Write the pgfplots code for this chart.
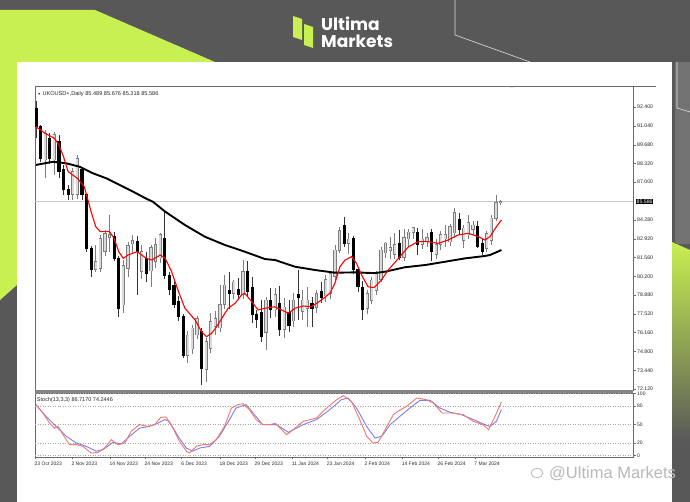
\documentclass[border=0pt]{standalone}
\usepackage{pgfplots}
\pgfplotsset{compat=1.18}
\usepackage{pgfplotstable}
\usepackage{fontspec}
\setmainfont{Liberation Sans}
\newfontfamily\logofont{Poppins}
\definecolor{bgray}{RGB}{88,88,88}
\definecolor{limeg}{RGB}{200,240,80}
\definecolor{bullfill}{RGB}{218,218,218}
\definecolor{bulledge}{RGB}{125,125,125}
\definecolor{stochred}{RGB}{240,120,110}
\definecolor{stochblue}{RGB}{125,125,235}
\definecolor{framec}{RGB}{105,105,105}
\definecolor{txt}{RGB}{40,40,40}

\pgfplotstableread{
i o h l c
0 92.3 92.8 90.2 91.0
1 91.0 91.1 88.46 88.7
2 88.6 90.75 87.3 90.5
3 90.15 90.5 88.3 88.7
4 88.6 90.6 87.5 90.4
5 89.9 90.4 87.3 87.75
6 87.9 88.2 86.1 86.45
7 86.45 86.8 85.7 86.1
8 86.1 88.0 85.7 87.75
9 86.1 88.95 85.8 88.7
10 87.9 88.1 85.7 86.1
11 86.1 86.2 82.0 82.25
12 82.25 82.4 80.2 80.7
13 80.7 82.5 80.55 81.3
14 80.8 83.2 80.5 82.95
15 82.0 83.55 81.7 83.3
16 83.0 84.6 82.0 83.2
17 83.1 83.4 81.3 81.5
18 81.5 81.7 77.3 77.9
19 78.15 81.4 77.6 81.0
20 80.8 82.7 80.2 82.45
21 82.55 83.2 81.9 82.8
22 82.7 83.1 78.9 82.0
23 80.55 82.5 80.0 82.0
24 81.5 82.0 79.8 80.4
25 80.6 82.45 79.45 82.3
26 81.3 82.95 80.8 82.5
27 81.55 83.3 81.2 83.2
28 82.95 84.85 80.0 80.3
29 80.3 80.5 78.9 79.25
30 79.6 79.9 77.95 78.15
31 78.4 78.8 77.0 77.3
32 77.3 77.5 74.35 74.55
33 74.55 76.3 74.0 76.0
34 75.0 76.7 74.6 76.5
35 76.0 77.4 75.7 77.2
36 76.25 76.5 72.4 73.6
37 73.5 75.8 72.6 75.5
38 75.05 77.6 74.7 76.95
39 76.6 77.7 76.0 77.2
40 76.5 79.6 76.2 78.2
41 78.2 80.3 77.9 79.6
42 79.2 80.55 77.9 79.0
43 79.0 79.95 78.6 79.8
44 79.3 80.1 78.5 78.9
45 78.9 81.4 78.6 80.55
46 80.55 81.3 78.7 79.1
47 79.45 80.2 76.85 77.45
48 77.45 77.8 76.5 77.1
49 77.6 78.5 75.5 75.9
50 76.2 78.75 74.9 78.5
51 78.5 79.4 77.2 77.8
52 77.8 79.4 77.3 78.9
53 78.3 79.5 75.9 76.4
54 76.4 78.65 75.8 78.0
55 77.6 78.5 76.2 76.7
56 77.0 79.0 76.6 78.5
57 78.95 80.65 77.1 78.7
58 77.7 79.2 77.1 78.5
59 77.9 79.45 76.6 78.5
60 78.3 78.7 76.6 77.9
61 78.0 79.2 77.6 79.0
62 79.1 79.8 78.3 78.7
63 78.8 80.3 78.4 80.0
64 79.0 80.5 78.6 80.4
65 80.2 82.5 79.9 82.1
66 82.1 83.8 81.9 83.5
67 83.9 84.5 82.3 82.6
68 82.6 83.3 81.8 82.9
69 82.95 83.1 80.4 80.7
70 80.7 80.9 79.1 79.45
71 79.45 79.9 77.1 77.8
72 77.9 79.2 77.5 79.0
73 78.5 80.2 78.2 79.95
74 79.2 80.6 78.9 80.4
75 80.0 82.35 79.8 82.1
76 81.9 82.7 81.5 82.6
77 82.1 83.05 81.5 82.3
78 81.8 83.3 81.5 82.5
79 82.6 83.55 81.4 81.6
80 81.6 83.65 81.3 83.0
81 82.9 83.65 82.4 83.4
82 83.4 83.8 82.9 83.75
83 83.4 83.7 81.75 82.5
84 82.5 83.6 82.2 82.9
85 82.7 83.3 82.3 83.0
86 83.4 83.6 81.3 82.0
87 81.8 82.9 81.5 82.5
88 82.5 83.45 82.1 83.2
89 82.9 83.9 82.3 83.2
90 82.7 84.0 82.4 83.8
91 83.35 85.1 83.0 84.8
92 84.3 84.8 83.2 83.55
93 82.8 83.9 82.25 83.7
94 83.2 84.65 82.9 84.1
95 83.6 84.2 83.2 83.9
96 83.8 84.2 82.25 82.35
97 82.6 82.9 81.75 82.0
98 82.2 83.5 82.0 83.3
99 82.8 84.6 82.5 84.4
100 84.4 86.07 84.2 85.5
101 85.489 85.676 85.318 85.586
}\candles

\pgfplotsset{
  candle/.style n args={2}{draw=none, mark=none, forget plot,
    error bars/.cd, y dir=both, y explicit, error mark=none,
    error bar style={draw=#1, line width=#2, solid}},
}

\begin{document}
\begin{tikzpicture}[x=1pt,y=1pt]
\useasboundingbox (0pt,0pt) rectangle (690pt,502pt);
% background
\fill[bgray] (0pt,0pt) rectangle (690pt,502pt);
\fill[limeg] (0pt,492pt) -- (95pt,492pt) -- (215pt,440pt) -- (17pt,440pt) -- (17pt,217pt) -- (0pt,202pt) -- cycle;
\shade[top color=limeg, bottom color=bgray] (672pt,260pt) -- (690pt,252pt) -- (690pt,60pt) -- (672pt,60pt) -- cycle;
\fill[black!55] (675pt,440pt) rectangle (690pt,258pt);
\draw[white!75!gray, line width=0.6pt] (455pt,502pt) -- (455pt,467pt) -- (530pt,440pt);
\draw[white!75!gray, line width=0.6pt] (677pt,440pt) -- (677pt,394pt) -- (690pt,390pt);
\fill[white] (17pt,0pt) rectangle (672pt,440pt);
% logo
\fill[limeg] (293pt,486pt) -- (302pt,483pt) -- (302pt,462pt) -- (293pt,465pt) -- cycle;
\fill[limeg] (304pt,478pt) -- (313pt,475pt) -- (313pt,454pt) -- (304pt,457pt) -- cycle;
\node[anchor=base west, inner sep=0pt, text depth=0pt, text=white, font=\logofont\bfseries\fontsize{17}{18}\selectfont] at (321pt,471pt) {Ultima};
\node[anchor=base west, inner sep=0pt, text depth=0pt, text height=11pt, text=white, font=\logofont\bfseries\fontsize{17}{18}\selectfont] at (321pt,454.5pt) {Markets};
% chart window top line
\draw[framec, line width=0.6pt] (35pt,416pt) -- (656pt,416pt);

% main price panel
\begin{axis}[
  at={(35pt,112pt)}, anchor=south west,
  width=598pt, height=304pt, scale only axis,
  xmin=-0.2, xmax=129.8, ymin=72.04, ymax=93.91,
  clip mode=individual,
  axis line style={draw=framec, line width=0.6pt},
  xtick=\empty,
  ytick={72.12,73.44,74.8,76.16,77.52,78.88,80.2,81.56,82.92,84.28,87.0,88.32,89.68,91.04,92.4},
  yticklabels={72.120,73.440,74.800,76.160,77.520,78.880,80.200,81.560,82.920,84.280,87.000,88.320,89.680,91.040,92.400},
  ytick pos=right, yticklabel pos=right,
  ytick align=outside, major tick length=2.5pt,
  tick style={draw=framec, line width=0.5pt},
  yticklabel style={font=\fontsize{5.2}{6}\selectfont, text=txt, inner sep=1.5pt},
]
\addplot[gray!45, line width=0.5pt] coordinates {(-0.2,85.586) (129.8,85.586)};
% wicks
\addplot[candle={bulledge}{0.6pt}]
  table[x=i, y expr={(\thisrow{h}+\thisrow{l})/2}, y error expr={(\thisrow{h}-\thisrow{l})/2},
        restrict expr to domain={\thisrow{c}-\thisrow{o}}{0:100}] {\candles};
\addplot[candle={black!80}{0.6pt}]
  table[x=i, y expr={(\thisrow{h}+\thisrow{l})/2}, y error expr={(\thisrow{h}-\thisrow{l})/2},
        restrict expr to domain={\thisrow{o}-\thisrow{c}}{0.000001:100}] {\candles};
% bull bodies
\addplot[candle={bulledge}{3.2pt}]
  table[x=i, y expr={(\thisrow{o}+\thisrow{c})/2}, y error expr={abs(\thisrow{c}-\thisrow{o})/2+0.03},
        restrict expr to domain={\thisrow{c}-\thisrow{o}}{0:100}] {\candles};
\addplot[candle={bullfill}{1.9pt}]
  table[x=i, y expr={(\thisrow{o}+\thisrow{c})/2}, y error expr={max(abs(\thisrow{c}-\thisrow{o})/2-0.02,0)},
        restrict expr to domain={\thisrow{c}-\thisrow{o}}{0:100}] {\candles};
% bear bodies
\addplot[candle={black}{3.2pt}]
  table[x=i, y expr={(\thisrow{o}+\thisrow{c})/2}, y error expr={abs(\thisrow{c}-\thisrow{o})/2+0.03},
        restrict expr to domain={\thisrow{o}-\thisrow{c}}{0.000001:100}] {\candles};
% moving averages
\addplot[black, line width=1.9pt] coordinates {
(0,88.23) (3.7,88.46) (6.6,88.35) (9.5,88.1) (12.4,87.63) (15.3,87.27) (18.2,86.79) (21.1,86.31) (24,85.8) (25.4,85.59) (28.1,84.87) (32.4,83.91) (36.7,83.07) (41.1,82.47) (45.4,81.99) (49.8,81.46) (52,81.39) (56.3,80.91) (60.7,80.67) (65,80.48) (69.3,80.5) (73.6,80.45) (75.9,80.55) (80.2,80.87) (84.6,81.03) (89,81.27) (93.3,81.51) (97.6,81.68) (98.7,81.75) (101.2,82.11)};
\addplot[red, line width=1.1pt] coordinates {
(0,90.98) (2,90.5) (4,90.15) (5,89.67) (6,88.82) (7,87.75) (9,87.27) (10.5,86.67) (11,86.07) (12,84.87) (13,83.79) (14,83.43) (16,83.43) (17,82.95) (18,81.99) (19,81.51) (20,81.75) (22,81.99) (24,81.51) (25.2,81.39) (27,81.75) (28.1,81.51) (29.5,80.55) (31,79.11) (32.4,77.92) (34.6,77.08) (36,76.24) (37.1,75.88) (38.2,76.12) (39.3,76.6) (40.4,77.2) (41.8,77.92) (43.3,78.28) (44.7,78.88) (45.4,79.0) (46.9,78.4) (48.3,77.8) (49.8,77.92) (51.9,78.03) (53.4,77.8) (54.9,77.56) (56.3,77.92) (58.1,78.08) (59.9,78.03) (62.1,78.52) (63.9,79.0) (65,79.72) (66.1,80.91) (67.2,81.39) (68.6,81.63) (69.7,81.15) (70.8,80.31) (72.2,79.47) (73.5,79.4) (75.1,79.95) (76.6,80.67) (78.8,81.51) (81,82.35) (83.1,82.71) (85.2,82.71) (87.5,82.59) (89.6,82.83) (91.8,83.19) (94,83.31) (96.2,83.07) (97.6,82.83) (98.7,83.07) (100.1,83.79) (101.2,84.27)};
% texts
\node[anchor=north west, inner sep=0pt, font=\fontsize{5.6}{6.5}\selectfont, text=txt] at (axis cs:0.3,93.5) {{\fontsize{3.5}{4}\selectfont ▼} UKOUSD+,Daily 85.489 85.676 85.318 85.586};
\node[anchor=west, fill=black, text=white, inner sep=0.9pt, font=\fontsize{5.2}{6}\selectfont] at (axis cs:130.35,85.586) {85.586};
\node[anchor=north, inner sep=0pt, text=gray, font=\fontsize{3.5}{4}\selectfont] at (axis cs:103.5,93.91) {▼};
\end{axis}

\fill[framec!80] (35pt,109pt) rectangle (633pt,112pt);

% stochastic panel
\begin{axis}[
  at={(35pt,45pt)}, anchor=south west,
  width=598pt, height=64pt, scale only axis,
  xmin=-0.2, xmax=129.8, ymin=-2.42, ymax=100.8,
  clip mode=individual,
  axis line style={draw=framec, line width=0.6pt},
  xtick={-0.2,7.8,16.1,23.7,31.7,40,47.6,55.7,63.3,71.5,79.6,87.4,95.4},
  xticklabels={23 Oct 2023,2 Nov 2023,14 Nov 2023,24 Nov 2023,6 Dec 2023,18 Dec 2023,29 Dec 2023,11 Jan 2024,23 Jan 2024,2 Feb 2024,14 Feb 2024,26 Feb 2024,7 Mar 2024},
  xtick pos=bottom, xtick align=outside,
  xticklabel style={anchor=north west, font=\fontsize{5}{6}\selectfont, text=txt, inner sep=0pt, yshift=-2.5pt, xshift=-0.5pt},
  ytick={0,20,50,80,100}, yticklabels={0,20,50,80,100},
  ytick pos=right, yticklabel pos=right, ytick align=outside,
  major tick length=2.5pt,
  tick style={draw=framec, line width=0.5pt},
  yticklabel style={font=\fontsize{5}{6}\selectfont, text=txt, inner sep=1.5pt},
]
\addplot[gray!70, dotted, line width=0.5pt] coordinates {(-0.2,80) (129.8,80)};
\addplot[gray!70, dotted, line width=0.5pt] coordinates {(-0.2,50) (129.8,50)};
\addplot[gray!70, dotted, line width=0.5pt] coordinates {(-0.2,20) (129.8,20)};
\addplot[gray!70, dotted, line width=0.5pt] coordinates {(-0.2,100) (129.8,100)};
\addplot[gray!70, dotted, line width=0.5pt] coordinates {(-0.2,0) (129.8,0)};
\addplot[stochblue, line width=0.9pt] coordinates {
(0,82) (2.2,63) (4.4,47) (6.6,31) (8.8,20) (10.9,14.8) (13.1,7) (14.6,9.4) (16.7,21) (18.6,19) (20.4,31) (22.5,44) (24.7,47) (26.2,51) (28,58) (29,55) (30.9,31) (32.7,12) (34.1,7) (35.6,12) (37.8,14.8) (39.9,31) (42.1,58) (43.5,76.6) (45.7,82) (47.2,68.5) (49.3,49.7) (51.2,49.7) (52.3,49.7) (54.9,37.4) (58.1,49.7) (61,58) (63.9,74) (66.4,90) (67.9,92.7) (69.7,76.6) (71.9,47) (73.7,28.2) (75.2,31) (77,49.7) (79.1,63) (81.3,76.6) (83.5,89) (85.7,89) (87.8,76.6) (90,69.7) (92.5,65.8) (95.1,58) (97.6,49.7) (98.7,47) (100.1,55) (101.2,74.2)};
\addplot[stochred, line width=0.9pt] coordinates {
(0,82) (1.5,68.5) (3,52) (4,44) (4.8,47) (5.9,33.6) (7.3,17.5) (8.8,17.5) (10.2,14.8) (12,4) (13.5,5) (14.9,12) (16.4,25.5) (17.8,17.5) (19.3,20) (20.7,39) (22.5,49.7) (24.3,47) (25.8,49.7) (27.2,62) (28.3,62) (29.8,44) (31.2,23) (32.7,7) (33.4,4) (34.9,15) (36.3,17.5) (37.8,17.5) (39.2,25.5) (41,47) (42.5,76.6) (43.9,82) (45,83.5) (46.4,74) (47.9,57.7) (49.3,49.7) (50.9,49.7) (52,52) (54.5,33.6) (55.9,41.6) (58.1,55) (61,60.5) (63.2,76.6) (65.4,90) (66.8,96.5) (68.6,87.4) (70.4,57.7) (71.9,31) (73.3,20) (74.4,21.3) (75.9,41.6) (77.7,65.8) (78.7,71.3) (80.6,79.4) (82.8,92.7) (84.9,90) (86.4,84.7) (88.3,68.5) (90.5,68.5) (92.9,65.8) (95.1,55) (97.2,49.7) (98.4,41.6) (99.8,63) (101.2,86.7)};
\node[anchor=north west, inner sep=0pt, font=\fontsize{5.5}{6.5}\selectfont, text=txt] at (rel axis cs:0.003,0.93) {Stoch(13,3,3) 86.7170 74.2446};
\end{axis}

% watermark
\draw[gray!55, line width=0.8pt] (537pt,29pt) ellipse (6pt and 4.5pt);
\node[anchor=base west, inner sep=0pt, text=gray!55, font=\fontsize{16.5}{18}\selectfont] at (549pt,23pt) {@Ultima Markets};
\end{tikzpicture}
\end{document}
